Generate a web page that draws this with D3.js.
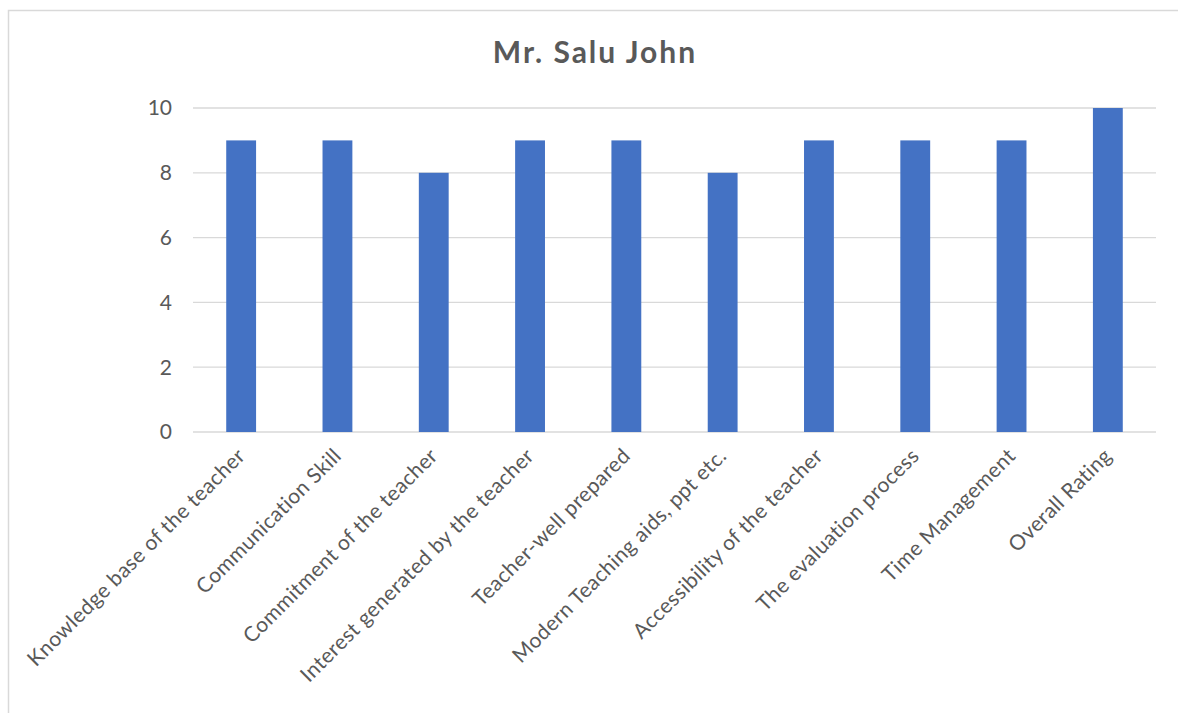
<!DOCTYPE html>
<html>
<head>
<meta charset="utf-8">
<script src="https://cdn.jsdelivr.net/npm/d3@7"></script>
<style>
  body { margin: 0; background: #fff; }
  text { font-family: Lato, "Open Sans", sans-serif; fill: #595959; }
</style>
</head>
<body>
<div id="chart"></div>
<script>
const title = "Mr. Salu John";
const categories = [
  "Knowledge base of the teacher",
  "Communication Skill",
  "Commitment of the teacher",
  "Interest generated by the teacher",
  "Teacher-well prepared",
  "Modern Teaching aids, ppt etc.",
  "Accessibility of the teacher",
  "The evaluation process",
  "Time Management",
  "Overall Rating"
];
const ratings = [9, 9, 8, 9, 9, 8, 9, 9, 9, 10];
const yTicks = [0, 2, 4, 6, 8, 10];

const width = 1178, height = 713;
let margin = { top: 108, right: 22, bottom: 281, left: 193 };

let svg = d3.select('#chart').append('svg')
  .attr('width', width)
  .attr('height', height);

// chart frame
svg.append('rect')
  .attr('x', 8.5).attr('y', 10.5)
  .attr('width', width + 20).attr('height', height + 20)
  .attr('fill', 'none')
  .attr('stroke', '#d9d9d9')
  .attr('stroke-width', 1.5);

let x = d3.scaleBand()
  .domain(categories)
  .range([margin.left, width - margin.right])
  .paddingInner(0.69)
  .paddingOuter(0.345);

let y = d3.scaleLinear()
  .domain([0, 10])
  .range([height - margin.bottom, margin.top]);

// gridlines
svg.append('g')
  .selectAll('line')
  .data(yTicks)
  .join('line')
  .attr('x1', margin.left)
  .attr('x2', width - margin.right)
  .attr('y1', d => y(d))
  .attr('y2', d => y(d))
  .attr('stroke', '#d9d9d9')
  .attr('stroke-width', 1.3);

// y tick labels
svg.append('g')
  .selectAll('text')
  .data(yTicks)
  .join('text')
  .attr('x', 172)
  .attr('y', d => y(d))
  .attr('dy', '0.35em')
  .attr('text-anchor', 'end')
  .style('font-size', '21px')
  .text(d => d);

// bars
svg.append('g')
  .selectAll('rect')
  .data(ratings)
  .join('rect')
  .attr('x', (d, i) => x(categories[i]))
  .attr('y', d => y(d))
  .attr('width', x.bandwidth())
  .attr('height', d => y(0) - y(d))
  .attr('fill', '#4472c4');

// category labels
svg.append('g')
  .selectAll('text')
  .data(categories)
  .join('text')
  .attr('text-anchor', 'end')
  .attr('transform', d => 'translate(' + (x(d) + x.bandwidth() / 2) + ',' + (y(0) + 20) + ') rotate(-45)')
  .attr('dy', '0.35em')
  .style('font-size', '21px')
  .style('letter-spacing', '0.4px')
  .text(d => d);

// title
svg.append('text')
  .attr('x', 595)
  .attr('y', 63)
  .attr('text-anchor', 'middle')
  .style('font-size', '30px')
  .style('font-weight', 'bold')
  .style('letter-spacing', '2px')
  .text(title);
</script>
</body>
</html>
